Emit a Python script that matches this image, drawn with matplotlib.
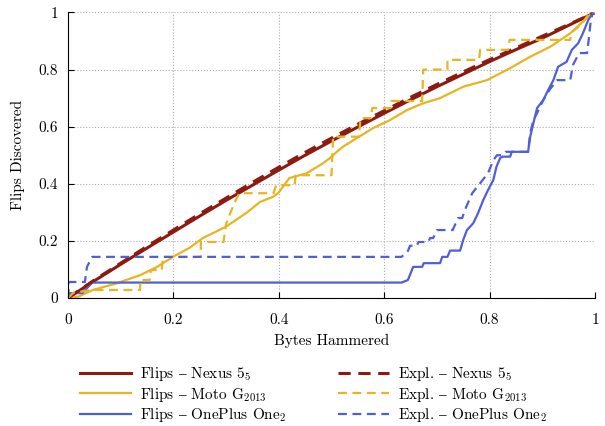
import matplotlib
matplotlib.use('Agg')
import matplotlib.pyplot as plt

plt.rcParams['font.family'] = ['cmr10', 'DejaVu Serif']
plt.rcParams['mathtext.fontset'] = 'cm'
plt.rcParams['axes.formatter.use_mathtext'] = True

# Flips / exploitable flips vs. fraction of bytes hammered
red_x = [0, 0.05, 0.1, 0.15, 0.2, 0.25, 0.3, 0.35, 0.4, 0.45, 0.5,
         0.55, 0.6, 0.65, 0.7, 0.75, 0.8, 0.85, 0.9, 0.95, 1.0]
nexus_flips = [0, 0.06, 0.118, 0.175, 0.231, 0.287, 0.342, 0.395, 0.448, 0.5, 0.55,
               0.599, 0.647, 0.694, 0.74, 0.784, 0.828, 0.87, 0.91, 0.955, 1.0]
nexus_expl = [0, 0.063, 0.122, 0.181, 0.238, 0.295, 0.35, 0.405, 0.458, 0.51, 0.56,
              0.609, 0.656, 0.703, 0.748, 0.792, 0.835, 0.876, 0.917, 0.958, 1.0]

moto_flips_x = [0, 0.02, 0.047, 0.09, 0.137, 0.17, 0.2, 0.23, 0.256, 0.3, 0.34, 0.364,
                0.39, 0.4, 0.42, 0.453, 0.484, 0.497, 0.51, 0.522, 0.548, 0.579, 0.611,
                0.643, 0.674, 0.706, 0.75, 0.795, 0.839, 0.877, 0.915, 0.953, 0.99, 1.0]
moto_flips = [0, 0.005, 0.028, 0.05, 0.08, 0.11, 0.145, 0.175, 0.21, 0.25, 0.30, 0.336,
              0.355, 0.37, 0.42, 0.437, 0.472, 0.49, 0.512, 0.53, 0.56, 0.595, 0.623,
              0.658, 0.682, 0.70, 0.74, 0.763, 0.805, 0.845, 0.88, 0.927, 0.99, 1.0]

moto_expl_x = [0, 0.01, 0.045, 0.137, 0.137, 0.155, 0.157, 0.178, 0.18, 0.252, 0.252,
               0.295, 0.3, 0.315, 0.325, 0.39, 0.395, 0.43, 0.432, 0.5, 0.503, 0.552,
               0.555, 0.575, 0.577, 0.612, 0.614, 0.672, 0.674, 0.72, 0.72, 0.78,
               0.782, 0.835, 0.838, 0.953, 0.955, 0.975, 0.99, 1.0]
moto_expl = [0, 0.018, 0.028, 0.028, 0.063, 0.063, 0.098, 0.098, 0.144, 0.144, 0.196,
             0.196, 0.26, 0.33, 0.367, 0.367, 0.395, 0.395, 0.43, 0.43, 0.565, 0.565,
             0.63, 0.63, 0.665, 0.665, 0.69, 0.69, 0.80, 0.80, 0.834, 0.834,
             0.869, 0.869, 0.904, 0.904, 0.93, 0.96, 1.0, 1.0]

op_flips_x = [0, 0.003, 0.027, 0.046, 0.633, 0.645, 0.655, 0.672, 0.675, 0.706, 0.71,
              0.72, 0.725, 0.744, 0.75, 0.757, 0.769, 0.778, 0.788, 0.797, 0.807, 0.813,
              0.82, 0.824, 0.839, 0.842, 0.873, 0.877, 0.883, 0.89, 0.902, 0.911, 0.921,
              0.93, 0.946, 0.956, 0.968, 0.977, 0.987, 0.996]
op_flips = [0, 0.017, 0.017, 0.054, 0.054, 0.063, 0.109, 0.109, 0.122, 0.122, 0.144,
            0.144, 0.166, 0.166, 0.204, 0.238, 0.262, 0.297, 0.343, 0.378, 0.413, 0.46,
            0.49, 0.495, 0.495, 0.512, 0.512, 0.565, 0.612, 0.665, 0.694, 0.728, 0.763,
            0.81, 0.827, 0.869, 0.892, 0.927, 0.973, 1.0]

op_expl_x = [0, 0.002, 0.032, 0.036, 0.046, 0.633, 0.645, 0.649, 0.662, 0.665, 0.684,
             0.687, 0.693, 0.70, 0.73, 0.74, 0.748, 0.753, 0.767, 0.782, 0.797, 0.807,
             0.814, 0.823, 0.83, 0.873, 0.877, 0.883, 0.89, 0.902, 0.914, 0.928, 0.953,
             0.958, 0.97, 0.985, 0.988, 0.992, 0.996]
op_expl = [0, 0.056, 0.056, 0.109, 0.144, 0.144, 0.165, 0.183, 0.183, 0.196, 0.196,
           0.21, 0.21, 0.238, 0.238, 0.28, 0.28, 0.308, 0.367, 0.402, 0.437, 0.483,
           0.50, 0.50, 0.512, 0.512, 0.577, 0.623, 0.647, 0.694, 0.73, 0.763, 0.763,
           0.816, 0.858, 0.858, 0.904, 0.973, 1.0]

red = '#8c1a10'
yellow = '#e8b422'
blue = '#4f5fd6'
dash = (0, (4, 2.5))
nd = '$\u2013$'  # en dash, cmr10 has no glyph for it

fig = plt.figure(figsize=(6.05, 4.26), dpi=100)
ax = fig.add_axes([0.1124, 0.3005, 0.8711, 0.6702])

ax.plot(red_x, nexus_flips, color=red, lw=2.2, label=f'Flips {nd} Nexus 5$_5$')
ax.plot(moto_flips_x, moto_flips, color=yellow, lw=1.6, label=f'Flips {nd} Moto G$_{{2013}}$')
ax.plot(op_flips_x, op_flips, color=blue, lw=1.6, label=f'Flips {nd} OnePlus One$_2$')
ax.plot(red_x, nexus_expl, color=red, lw=2.2, ls=dash, label=f'Expl. {nd} Nexus 5$_5$')
ax.plot(moto_expl_x, moto_expl, color=yellow, lw=1.6, ls=dash, label=f'Expl. {nd} Moto G$_{{2013}}$')
ax.plot(op_expl_x, op_expl, color=blue, lw=1.6, ls=dash, label=f'Expl. {nd} OnePlus One$_2$')

ax.set_xlim(0, 1)
ax.set_ylim(0, 1)
ax.set_xticks([0, 0.2, 0.4, 0.6, 0.8, 1])
ax.set_yticks([0, 0.2, 0.4, 0.6, 0.8, 1])
ax.set_xticklabels(['0', '0.2', '0.4', '0.6', '0.8', '1'])
ax.set_yticklabels(['0', '0.2', '0.4', '0.6', '0.8', '1'])
ax.tick_params(direction='in', labelsize=11, length=4, width=0.8)
ax.tick_params(axis='x', pad=11)
ax.tick_params(axis='y', pad=7)
ax.spines['top'].set_visible(False)
ax.spines['right'].set_visible(False)
ax.grid(True, ls=':', color='#aaaaaa', lw=0.8)
ax.set_axisbelow(True)
ax.set_xlabel('Bytes Hammered', fontsize=11, labelpad=5)
ax.set_ylabel('Flips Discovered', fontsize=11, labelpad=10)

ax.legend(loc='upper center', bbox_to_anchor=(0.466, -0.198), ncol=2, frameon=False,
          fontsize=11, handlelength=3.3, columnspacing=3.4, labelspacing=0.17,
          handletextpad=0.6, borderaxespad=0.3)

fig.savefig('out.png', dpi=100)
